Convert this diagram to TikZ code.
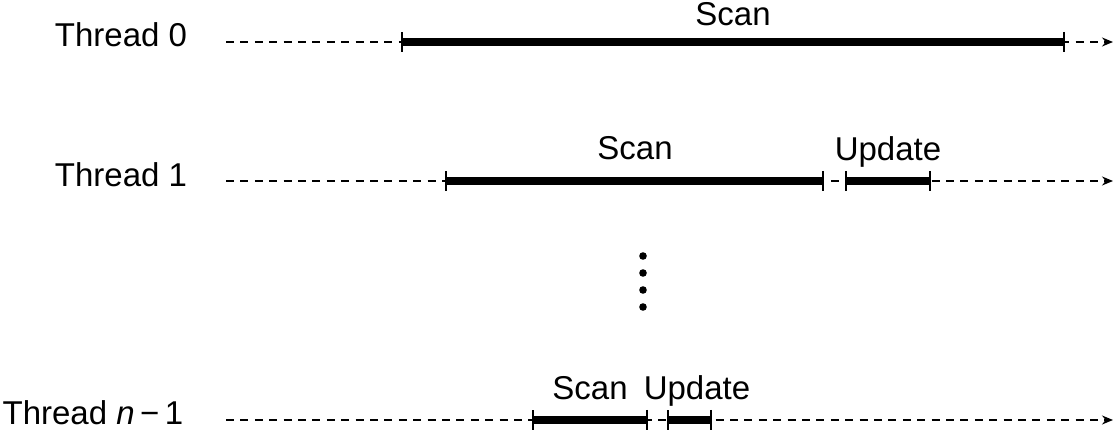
\documentclass[tikz,border=0pt]{standalone}
\usepackage{fontspec}
\setmainfont{Liberation Sans}
\usetikzlibrary{arrows.meta}
\begin{document}
\begin{tikzpicture}[x=0.5pt, y=-0.5pt, font=\fontsize{16.5}{20}\selectfont]
	\tikzset{timeline/.style={dash pattern=on 4pt off 3.2pt, line width=0.75pt, -{Stealth[length=5.5pt, width=4.5pt]}},
		busy/.style={line width=4pt, {Bar[width=10pt, line width=1pt]}-{Bar[width=10pt, line width=1pt]}},
		thread/.style={anchor=base},
		phase/.style={anchor=base}}
	\useasboundingbox (0,0) rectangle (1119,431);
	% Thread 0
	\node [thread] (name0) at (121,47) {Thread 0};
	\coordinate (start0) at (226,42);
	\coordinate (end0) at (1113,42);
	\coordinate (scan0a) at (401,42);
	\coordinate (scan0b) at (1065,42);
	\draw [timeline] (start0) -- (end0);
	\draw [busy] (scan0a) -- (scan0b);
	\node [phase] (scan0) at (733,26) {Scan};
	% Thread 1
	\node [thread] (name1) at (121,187) {Thread 1};
	\coordinate (start1) at (226,181);
	\coordinate (end1) at (1113,181);
	\coordinate (scan1a) at (445,181);
	\coordinate (scan1b) at (824,181);
	\coordinate (upd1a) at (845,181);
	\coordinate (upd1b) at (931,181);
	\draw [timeline] (start1) -- (end1);
	\draw [busy] (scan1a) -- (scan1b);
	\draw [busy] (upd1a) -- (upd1b);
	\node [phase] (scan1) at (635,160) {Scan};
	\node [phase] (upd1) at (888,161) {Update};
	% dots
	\foreach \y in {256,273,290,307}
		\fill (643,\y) circle [radius=1.9pt];
	% Thread n-1
	\node [thread] (namen) at (93,425) {Thread \textit{n}\,−\,1};
	\coordinate (startn) at (226,420);
	\coordinate (endn) at (1113,420);
	\coordinate (scanna) at (532,420);
	\coordinate (scannb) at (648,420);
	\coordinate (updna) at (667,420);
	\coordinate (updnb) at (712,420);
	\draw [timeline] (startn) -- (endn);
	\draw [busy] (scanna) -- (scannb);
	\draw [busy] (updna) -- (updnb);
	\node [phase] (scann) at (590,400) {Scan};
	\node [phase] (updn) at (697,400) {Update};
\end{tikzpicture}
\end{document}
